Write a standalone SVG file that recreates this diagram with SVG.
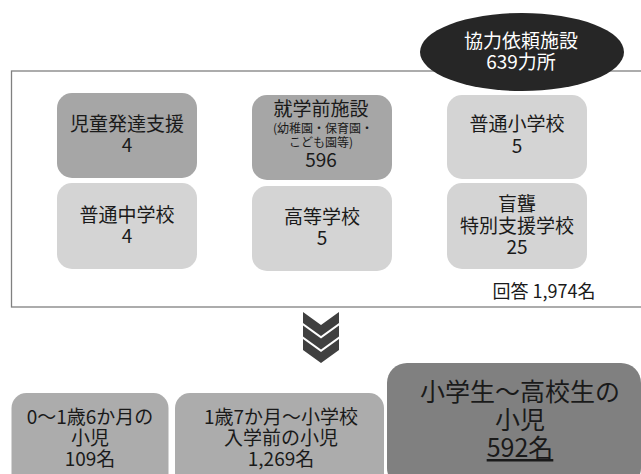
<svg xmlns="http://www.w3.org/2000/svg" width="641" height="474" viewBox="0 0 641 474">
<style>
text{font-family:"Noto Sans CJK JP","Noto Sans",sans-serif;fill:#1a1a1a;text-anchor:middle}
.t19{font-size:19px}
.t12{font-size:12px}
.t25{font-size:25px}
.dark{fill:#a6a6a6}
.light{fill:#d4d4d4}
.chev{fill:#404040}
</style>
<rect x="11.5" y="71" width="640" height="236" fill="#ffffff" stroke="#808080" stroke-width="1.3"/>
<g id="header">
<ellipse cx="522" cy="52" rx="102" ry="39" fill="#262626"/>
<text class="t19" x="521" y="48" style="fill:#ffffff">協力依頼施設</text>
<text class="t19" x="521" y="69" style="fill:#ffffff">639力所</text>
</g>
<g id="n1"><rect class="dark" x="57" y="93" width="140" height="85" rx="15"/>
<text class="t19" x="127" y="131">児童発達支援</text><text class="t19" x="127" y="152">4</text></g>
<g id="n2"><rect class="dark" x="252" y="95" width="140" height="85" rx="15"/>
<text class="t19" x="321" y="116">就学前施設</text>
<text class="t12" x="323" y="133">(幼稚園・保育園・</text>
<text class="t12" x="321" y="147">こども園等)</text>
<text class="t19" x="321" y="167">596</text></g>
<g id="n3"><rect class="light" x="447" y="95" width="140" height="84" rx="15"/>
<text class="t19" x="517" y="131">普通小学校</text><text class="t19" x="517" y="153">5</text></g>
<g id="n4"><rect class="light" x="57" y="183" width="140" height="86" rx="15"/>
<text class="t19" x="127" y="222">普通中学校</text><text class="t19" x="127" y="243">4</text></g>
<g id="n5"><rect class="light" x="252" y="186" width="140" height="85" rx="15"/>
<text class="t19" x="322" y="224">高等学校</text><text class="t19" x="322" y="245">5</text></g>
<g id="n6"><rect class="light" x="447" y="183" width="140" height="86" rx="15"/>
<text class="t19" x="517" y="211">盲聾</text>
<text class="t19" x="517" y="233">特別支援学校</text>
<text class="t19" x="517" y="254">25</text></g>
<g id="total"><text x="544" y="298" style="font-size:18px">回答 1,974名</text></g>
<g id="connectors">
<polygon class="chev" points="303,312 321,325 339,312 339,323 321,336 303,323"/>
<polygon class="chev" points="303,325.5 321,338.5 339,325.5 339,336.5 321,349.5 303,336.5"/>
<polygon class="chev" points="303,339 321,352 339,339 339,350 321,363 303,350"/>
</g>
<g id="b1"><rect x="11.5" y="393" width="157" height="95" rx="15" fill="#acacac"/>
<text class="t19" x="90" y="424">0～1歳6か月の</text>
<text class="t19" x="90" y="445">小児</text>
<text class="t19" x="90" y="466">109名</text></g>
<g id="b2"><rect x="175" y="393" width="209" height="95" rx="15" fill="#acacac"/>
<text class="t19" x="281" y="424">1歳7か月～小学校</text>
<text class="t19" x="281" y="445">入学前の小児</text>
<text class="t19" x="281" y="466">1,269名</text></g>
<g id="b3"><rect x="387" y="363" width="254" height="125" rx="20" fill="#808080"/>
<text class="t25" x="520" y="401">小学生～高校生の</text>
<text class="t25" x="520" y="429">小児</text>
<text class="t25" x="520" y="457" text-decoration="underline">592名</text></g>
</svg>
